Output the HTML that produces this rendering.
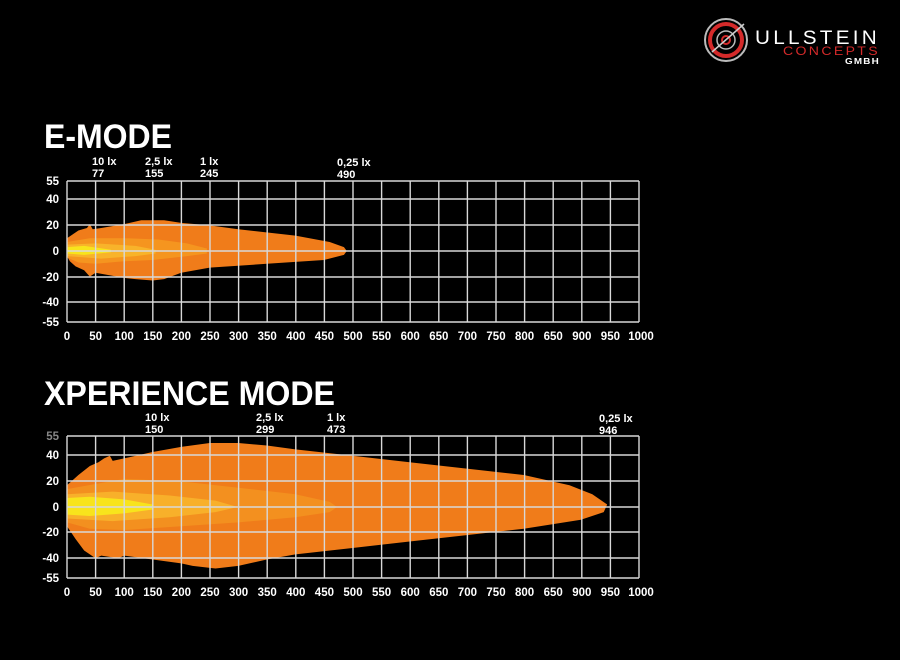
<!DOCTYPE html>
<html><head><meta charset="utf-8"><style>
html,body{margin:0;padding:0;background:#000;}
svg{display:block}
text{font-family:"Liberation Sans",sans-serif;fill:#fff;font-weight:bold}
</style></head><body>
<svg width="900" height="660" viewBox="0 0 900 660" xmlns="http://www.w3.org/2000/svg">
<rect width="900" height="660" fill="#000"/>
<g>
<circle cx="726" cy="40" r="21" fill="none" stroke="#bbb" stroke-width="2"/>
<circle cx="726" cy="40" r="16" fill="none" stroke="#d42a2a" stroke-width="4"/>
<circle cx="726" cy="40" r="9" fill="none" stroke="#bbb" stroke-width="1.5"/>
<circle cx="726" cy="40" r="4" fill="none" stroke="#d42a2a" stroke-width="2"/>
<line x1="712" y1="52" x2="744" y2="24" stroke="#ccc" stroke-width="1.5"/>
<text x="755" y="44" textLength="125" lengthAdjust="spacingAndGlyphs" style="font-weight:normal;font-size:19px;letter-spacing:3px">ULLSTEIN</text>
<text x="783" y="55" textLength="97" lengthAdjust="spacingAndGlyphs" style="font-weight:normal;font-size:12px;letter-spacing:2px;fill:#d42a2a">CONCEPTS</text>
<text x="845" y="64" textLength="35" lengthAdjust="spacingAndGlyphs" style="font-size:8px;letter-spacing:1px">GMBH</text>
</g>
<text x="44" y="148" textLength="128" lengthAdjust="spacingAndGlyphs" style="font-size:34px">E-MODE</text>
<text x="44" y="405" textLength="291" lengthAdjust="spacingAndGlyphs" style="font-size:34px">XPERIENCE MODE</text>

<g transform="translate(67,251) scale(0.571,-1.28)">
<path fill="#f07c1a" d="M0,10 L10,13 L20,16 L35,18 L40,21 L45,17 L60,18 L100,21 L130,24 L170,24 L200,22 L250,20 L300,17 L400,12 L460,7 L485,3 L490,0 L485,-3 L450,-7 L350,-10 L250,-13 L200,-17 L170,-22 L150,-23 L120,-22 L100,-21 L50,-17 L40,-20 L30,-15 L15,-12 L5,-8 L0,-4 Z"/>
<path fill="#f5951f" d="M0,7 L40,10 L100,10 L160,9 L210,6 L245,2 L245,-2 L210,-4 L150,-7 L100,-8 L50,-10 L20,-9 L0,-5 Z"/>
<path fill="#f8b32a" d="M0,5 L50,6 L120,4 L155,1 L155,-2 L120,-4 L60,-6 L0,-4 Z"/>
<path fill="#f8e41c" d="M0,3 L30,4 L77,1 L77,-1 L30,-3 L0,-2 Z"/>
</g>
<g transform="translate(67,507) scale(0.571,-1.28)">
<path fill="#f07c1a" d="M0,17 L20,25 L40,32 L55,35 L65,38 L75,40 L80,36 L100,38 L150,43 L200,47 L250,50 L300,50 L350,48 L400,45 L500,40 L600,35 L700,30 L800,25 L880,17 L920,10 L946,2 L940,-4 L900,-10 L800,-17 L700,-22 L600,-27 L500,-32 L400,-37 L350,-41 L300,-46 L260,-48 L220,-46 L200,-44 L150,-41 L100,-38 L90,-40 L60,-38 L50,-40 L30,-34 L15,-25 L0,-15 Z"/>
<path fill="#f3901f" d="M0,14 L100,22 L200,20 L300,15 L400,10 L460,4 L473,0 L460,-4 L400,-8 L300,-12 L200,-15 L100,-18 L40,-17 L0,-12 Z"/>
<path fill="#f8b02a" d="M0,10 L80,12 L180,9 L260,5 L299,0 L260,-4 L180,-8 L80,-11 L0,-9 Z"/>
<path fill="#f8e41c" d="M0,7 L40,8 L100,6 L150,2 L150,-2 L100,-5 L40,-7 L0,-6 Z"/>
</g>

<g stroke="#d8d8d8" stroke-width="1.4" fill="none">
<path d="M67,181H639M67,199H639M67,225H639M67,251H639M67,277H639M67,302H639M67,322H639"/>
<path d="M67,181V322M95.6,181V322M124.2,181V322M152.8,181V322M181.4,181V322M210,181V322M238.6,181V322M267.2,181V322M295.8,181V322M324.4,181V322M353,181V322M381.6,181V322M410.2,181V322M438.8,181V322M467.4,181V322M496,181V322M524.6,181V322M553.2,181V322M581.8,181V322M610.4,181V322M639,181V322"/>
</g>
<g stroke="#d8d8d8" stroke-width="1.4" fill="none">
<path d="M67,436H639M67,455H639M67,481H639M67,507H639M67,532H639M67,558H639M67,578H639"/>
<path d="M67,436V578M95.6,436V578M124.2,436V578M152.8,436V578M181.4,436V578M210,436V578M238.6,436V578M267.2,436V578M295.8,436V578M324.4,436V578M353,436V578M381.6,436V578M410.2,436V578M438.8,436V578M467.4,436V578M496,436V578M524.6,436V578M553.2,436V578M581.8,436V578M610.4,436V578M639,436V578"/>
</g>

<g style="font-size:11.5px" text-anchor="end">
<text x="59" y="185">55</text><text x="59" y="203">40</text><text x="59" y="229">20</text><text x="59" y="255">0</text><text x="59" y="281">-20</text><text x="59" y="306">-40</text><text x="59" y="326">-55</text>
<text x="59" y="440" style="fill:#888">55</text><text x="59" y="459">40</text><text x="59" y="485">20</text><text x="59" y="511">0</text><text x="59" y="536">-20</text><text x="59" y="562">-40</text><text x="59" y="582">-55</text>
</g>
<g style="font-size:11.5px" text-anchor="middle">
<text x="67" y="340">0</text><text x="95.6" y="340">50</text><text x="124.2" y="340">100</text><text x="152.8" y="340">150</text><text x="181.4" y="340">200</text><text x="210" y="340">250</text><text x="238.6" y="340">300</text><text x="267.2" y="340">350</text><text x="295.8" y="340">400</text><text x="324.4" y="340">450</text><text x="353" y="340">500</text><text x="381.6" y="340">550</text><text x="410.2" y="340">600</text><text x="438.8" y="340">650</text><text x="467.4" y="340">700</text><text x="496" y="340">750</text><text x="524.6" y="340">800</text><text x="553.2" y="340">650</text><text x="581.8" y="340">900</text><text x="610.4" y="340">950</text><text x="641" y="340">1000</text>
<text x="67" y="596">0</text><text x="95.6" y="596">50</text><text x="124.2" y="596">100</text><text x="152.8" y="596">150</text><text x="181.4" y="596">200</text><text x="210" y="596">250</text><text x="238.6" y="596">300</text><text x="267.2" y="596">350</text><text x="295.8" y="596">400</text><text x="324.4" y="596">450</text><text x="353" y="596">500</text><text x="381.6" y="596">550</text><text x="410.2" y="596">600</text><text x="438.8" y="596">650</text><text x="467.4" y="596">700</text><text x="496" y="596">750</text><text x="524.6" y="596">800</text><text x="553.2" y="596">650</text><text x="581.8" y="596">900</text><text x="610.4" y="596">950</text><text x="641" y="596">1000</text>
</g>
<g style="font-size:11px">
<text x="92" y="165">10 lx</text><text x="92" y="177">77</text>
<text x="145" y="165">2,5 lx</text><text x="145" y="177">155</text>
<text x="200" y="165">1 lx</text><text x="200" y="177">245</text>
<text x="337" y="166">0,25 lx</text><text x="337" y="178">490</text>
<text x="145" y="421">10 lx</text><text x="145" y="433">150</text>
<text x="256" y="421">2,5 lx</text><text x="256" y="433">299</text>
<text x="327" y="421">1 lx</text><text x="327" y="433">473</text>
<text x="599" y="422">0,25 lx</text><text x="599" y="434">946</text>
</g>
</svg>
</body></html>
